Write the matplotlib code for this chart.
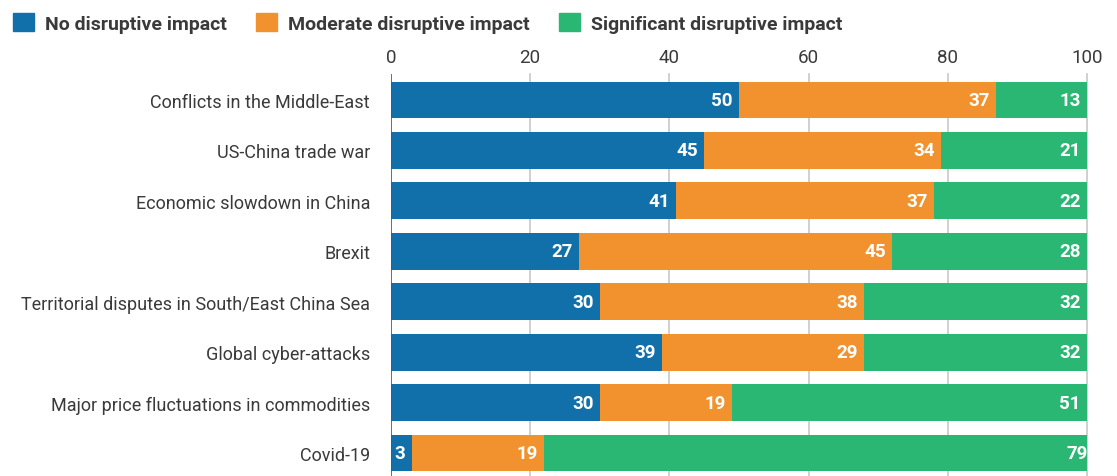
import matplotlib.pyplot as plt
from matplotlib.patches import Patch
import numpy as np

plt.rcParams['font.family'] = ['Roboto', 'DejaVu Sans']

categories = [
    'Conflicts in the Middle-East',
    'US-China trade war',
    'Economic slowdown in China',
    'Brexit',
    'Territorial disputes in South/East China Sea',
    'Global cyber-attacks',
    'Major price fluctuations in commodities',
    'Covid-19',
]
no_impact = [50, 45, 41, 27, 30, 39, 30, 3]
moderate_impact = [37, 34, 37, 45, 38, 29, 19, 19]
significant_impact = [13, 21, 22, 28, 32, 32, 51, 79]
series_names = ['No disruptive impact', 'Moderate disruptive impact',
                'Significant disruptive impact']
x_ticks = [0, 20, 40, 60, 80, 100]

colors = ['#1170A9', '#F2922E', '#2AB673']
text_color = '#3a3a3a'

fig = plt.figure(figsize=(11.17, 4.77), dpi=100)
ax = fig.add_axes([0.35, 0.0, 0.6231, 0.843])

y = np.arange(len(categories))
left = np.zeros(len(categories))
for vals, col in zip([no_impact, moderate_impact, significant_impact], colors):
    vals = np.array(vals)
    ax.barh(y, vals, left=left, height=0.73, color=col, zorder=2)
    for yi, l, v in zip(y, left, vals):
        ax.text(l + v - 0.9, yi, str(v), ha='right', va='center',
                color='white', fontsize=13.5, fontweight='bold', zorder=3)
    left = left + vals

ax.set_xlim(0, 100)
ax.set_ylim(7.456, -0.516)
ax.set_yticks(y)
ax.set_yticklabels(categories, fontsize=13, color=text_color)
ax.tick_params(axis='y', length=0, pad=15)
ax.xaxis.tick_top()
ax.set_xticks(x_ticks)
ax.set_xticklabels([str(t) for t in x_ticks], fontsize=13.5, color=text_color)
ax.tick_params(axis='x', length=0, pad=6)
for t in x_ticks[1:]:
    ax.axvline(t, color='#c8c8c8', lw=1.2, zorder=1, clip_on=False)
ax.axvline(0, color='#555555', lw=1.2, zorder=4)
for s in ax.spines.values():
    s.set_visible(False)

handles = [Patch(color=c) for c in colors]
leg = fig.legend(handles, series_names, loc='upper left', ncol=3,
                 bbox_to_anchor=(-0.004, 1.008), frameon=False,
                 handlelength=1.08, handleheight=1.08, handletextpad=0.57,
                 columnspacing=1.5, prop={'size': 14, 'weight': 'bold'})
for txt in leg.get_texts():
    txt.set_color(text_color)

fig.savefig('out.png', dpi=100)
